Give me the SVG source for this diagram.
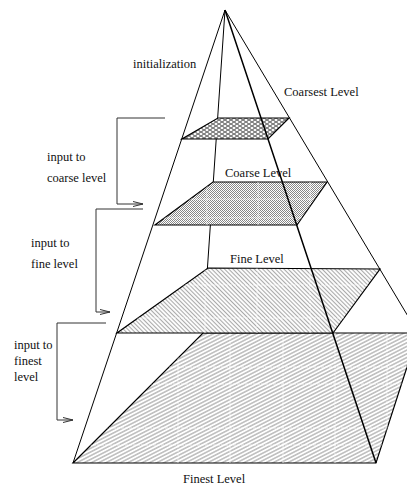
<svg xmlns="http://www.w3.org/2000/svg" width="407" height="487" viewBox="0 0 407 487">
<style>
text{font-family:"Liberation Serif","Times New Roman",serif;font-size:12.5px;fill:#111}
.edge{stroke:#000;stroke-width:1;fill:none}
.front{stroke:#000;stroke-width:1.5;fill:none}
.lvl{stroke:#000;stroke-width:1.2;stroke-linejoin:miter}
.br{stroke:#333;stroke-width:1;fill:none}
.grid{stroke:#fff;stroke-width:0.8;stroke-dasharray:3 1;opacity:0.85}
</style>
<defs>
<pattern id="pScale" width="6" height="4" patternUnits="userSpaceOnUse">
<rect width="6" height="4" fill="#fff"/>
<ellipse cx="3" cy="2" rx="2.6" ry="1.6" fill="none" stroke="#777" stroke-width="0.8"/>
<ellipse cx="0" cy="0" rx="2.6" ry="1.6" fill="none" stroke="#777" stroke-width="0.8"/>
<ellipse cx="6" cy="4" rx="2.6" ry="1.6" fill="none" stroke="#777" stroke-width="0.8"/>
<ellipse cx="6" cy="0" rx="2.6" ry="1.6" fill="none" stroke="#777" stroke-width="0.8"/>
<ellipse cx="0" cy="4" rx="2.6" ry="1.6" fill="none" stroke="#777" stroke-width="0.8"/>
</pattern>
<pattern id="pCheck" width="2" height="2" patternUnits="userSpaceOnUse">
<rect width="2" height="2" fill="#fff"/>
<rect width="1" height="1" fill="#888"/>
<rect x="1" y="1" width="1" height="1" fill="#888"/>
</pattern>
<pattern id="pBack" width="3" height="3" patternUnits="userSpaceOnUse" patternTransform="rotate(45)">
<rect width="3" height="3" fill="#fff"/>
<line x1="0" y1="1.5" x2="3" y2="1.5" stroke="#aaa" stroke-width="1.1"/>
</pattern>
<pattern id="pFwd" width="4" height="3.3" patternUnits="userSpaceOnUse" patternTransform="rotate(-27)">
<rect width="4" height="3.3" fill="#fff"/>
<line x1="0" y1="1.65" x2="4" y2="1.65" stroke="#999" stroke-width="1"/>
</pattern>
<clipPath id="cFinest"><polygon points="203,333 418,333 376,463 73,463"/></clipPath>
<clipPath id="cFine"><polygon points="208,268 380,269 333,333 117,333"/></clipPath>
<clipPath id="cCoarse"><polygon points="213,182 327,182 297,225 155,225"/></clipPath>
<marker id="arr" markerWidth="12" markerHeight="8" refX="11" refY="4" orient="auto" markerUnits="userSpaceOnUse">
<path d="M1,1.5 L11,4 L1,6.5" fill="none" stroke="#333" stroke-width="1"/>
</marker>
</defs>

<g id="connectors">
<line class="edge" x1="225" y1="10" x2="203" y2="333"/>
<line class="edge" x1="225" y1="10" x2="418" y2="333"/>
</g>

<g id="finest-level">
<polygon class="lvl" points="203,333 418,333 376,463 73,463" fill="url(#pFwd)"/>
<g clip-path="url(#cFinest)">
<path class="grid" d="M178,333V463M230,333V463M283,333V463M335,333V463M387,333V463M73,367H418M73,384H418M73,428H418M73,445H418"/>
</g>
<text x="183" y="483">Finest Level</text>
</g>
<g id="fine-level">
<polygon class="lvl" points="208,268 380,269 333,333 117,333" fill="url(#pBack)"/>
<g clip-path="url(#cFine)">
<path class="grid" d="M205,268V333M257,268V333M310,268V333M117,285H380M117,318H380"/>
</g>
<text x="230" y="263">Fine Level</text>
</g>
<g id="coarse-level">
<polygon class="lvl" points="213,182 327,182 297,225 155,225" fill="url(#pCheck)"/>
<g clip-path="url(#cCoarse)">
<path class="grid" d="M207,182V225M258,182V225M310,182V225M155,199H327M155,218H327"/>
</g>
<text x="225" y="177">Coarse Level</text>
</g>
<g id="coarsest-level">
<polygon class="lvl" points="218,118 289,118 268,139 182,139" fill="url(#pScale)"/>
<text x="284" y="96">Coarsest Level</text>
</g>

<g id="pyramid-edges">
<line class="edge" x1="225" y1="10" x2="73" y2="463"/>
<line class="front" x1="225" y1="10" x2="376" y2="463"/>
</g>

<g id="initialization">
<text x="133" y="68">initialization</text>
</g>

<g id="input-coarse">
<polyline class="br" points="165,118 117,118 117,204 143,204" marker-end="url(#arr)"/>
<text x="47" y="161">input to</text>
<text x="47" y="182">coarse level</text>
</g>
<g id="input-fine">
<polyline class="br" points="143,209 96,209 96,312 110,312" marker-end="url(#arr)"/>
<text x="31" y="247">input to</text>
<text x="31" y="268">fine level</text>
</g>
<g id="input-finest">
<polyline class="br" points="106,323 57,323 57,420 73,420" marker-end="url(#arr)"/>
<text x="14" y="349">input to</text>
<text x="14" y="365">finest</text>
<text x="14" y="381">level</text>
</g>
</svg>
